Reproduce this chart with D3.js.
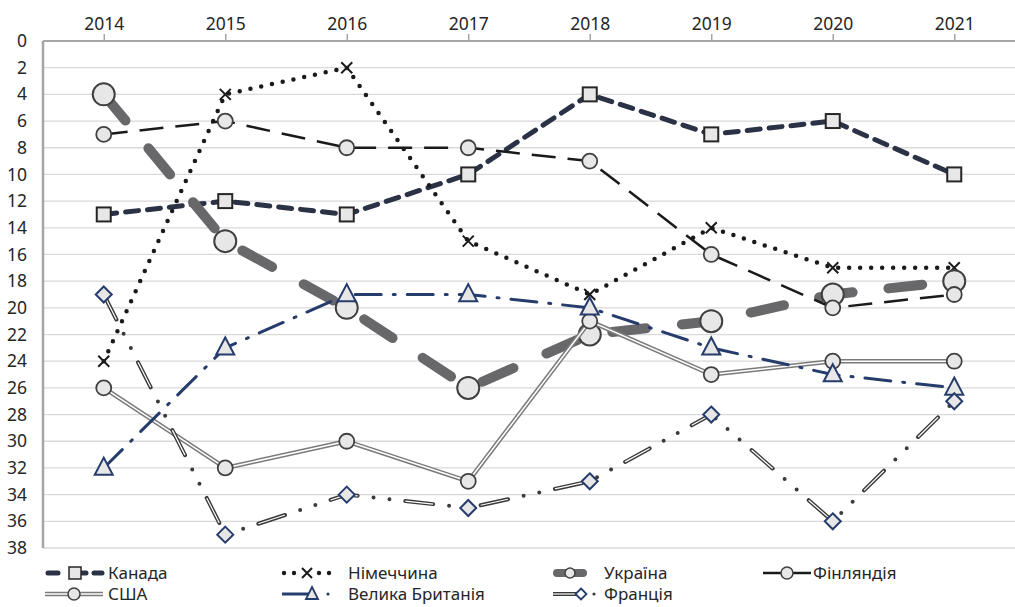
<!DOCTYPE html>
<html>
<head>
<meta charset="utf-8">
<script src="https://cdn.jsdelivr.net/npm/d3@7"></script>
<style>
  body { margin: 0; background: #fff; }
  svg text { font-family: "Noto Sans", "Open Sans", sans-serif; fill: #262626; }
</style>
</head>
<body>
<div id="chart"></div>
<script>
var years = ["2014", "2015", "2016", "2017", "2018", "2019", "2020", "2021"];
var yTicks = [0, 2, 4, 6, 8, 10, 12, 14, 16, 18, 20, 22, 24, 26, 28, 30, 32, 34, 36, 38];

var canada  = [13, 12, 13, 10, 4, 7, 6, 10];
var germany = [24, 4, 2, 15, 19, 14, 17, 17];
var ukraine = [4, 15, 20, 26, 22, 21, 19, 18];
var finland = [7, 6, 8, 8, 9, 16, 20, 19];
var usa     = [26, 32, 30, 33, 21, 25, 24, 24];
var uk      = [32, 23, 19, 19, 20, 23, 25, 26];
var france  = [19, 37, 34, 35, 33, 28, 36, 27];

var width = 1015, height = 607;
var plot = {left: 43, right: 1015, top: 41, bottom: 548};

var svg = d3.select("#chart").append("svg")
    .attr("width", width)
    .attr("height", height);

var x = d3.scalePoint()
    .domain(years)
    .range([plot.left, plot.right])
    .padding(0.5);

var y = d3.scaleLinear()
    .domain([0, 38])
    .range([plot.top, plot.bottom]);

// gridlines
svg.append("g")
  .selectAll("line")
  .data(yTicks.filter(function(d) { return d > 0; }))
  .enter().append("line")
    .attr("x1", plot.left).attr("x2", plot.right)
    .attr("y1", function(d) { return y(d); })
    .attr("y2", function(d) { return y(d); })
    .attr("stroke", "#d9d9d9")
    .attr("stroke-width", 1.3);

// top axis
var xAxis = d3.axisTop(x).tickSize(7).tickPadding(4);
var gx = svg.append("g")
    .attr("transform", "translate(0," + plot.top + ")")
    .call(xAxis);
gx.select(".domain").attr("stroke", "#a6a6a6").attr("stroke-width", 2).attr("d", "M" + plot.left + ",0H" + plot.right);
gx.selectAll(".tick line").attr("stroke", "#a6a6a6").attr("stroke-width", 1.5);
gx.selectAll(".tick text").style("font-size", "17.5px").attr("fill", "#262626");

// left axis
var yAxis = d3.axisLeft(y).tickValues(yTicks).tickSize(0).tickPadding(16);
var gy = svg.append("g")
    .attr("transform", "translate(" + plot.left + ",0)")
    .call(yAxis);
gy.select(".domain").attr("stroke", "#a6a6a6").attr("stroke-width", 2.5).attr("d", "M0," + plot.top + "V" + plot.bottom);
gy.selectAll(".tick text").style("font-size", "17.5px").attr("fill", "#262626");

var line = d3.line()
    .x(function(d, i) { return x(years[i]); })
    .y(function(d) { return y(d); });

function drawPath(g, vals, stroke, w, dash, cap) {
  g.append("path")
    .attr("d", line(vals))
    .attr("fill", "none")
    .attr("stroke", stroke)
    .attr("stroke-width", w)
    .attr("stroke-dasharray", dash || null)
    .attr("stroke-linecap", cap || "butt")
    .attr("stroke-linejoin", "round");
}

var markerFill = "#e7e7e7";

function drawMarkers(g, vals, kind, size, stroke, sw) {
  var sel = g.selectAll(".m").data(vals).enter();
  var cx = function(d, i) { return x(years[i]); };
  if (kind == "circle") {
    sel.append("circle")
      .attr("cx", cx).attr("cy", function(d) { return y(d); })
      .attr("r", size)
      .attr("fill", markerFill).attr("stroke", stroke).attr("stroke-width", sw);
  } else if (kind == "square") {
    sel.append("rect")
      .attr("x", function(d, i) { return cx(d, i) - size; })
      .attr("y", function(d) { return y(d) - size; })
      .attr("width", size * 2).attr("height", size * 2)
      .attr("fill", markerFill).attr("stroke", stroke).attr("stroke-width", sw);
  } else if (kind == "cross") {
    sel.append("path")
      .attr("transform", function(d, i) { return "translate(" + cx(d, i) + "," + y(d) + ")"; })
      .attr("d", "M" + -size + "," + -size + "L" + size + "," + size + "M" + -size + "," + size + "L" + size + "," + -size)
      .attr("stroke", stroke).attr("stroke-width", sw).attr("fill", "none");
  } else if (kind == "triangle") {
    sel.append("path")
      .attr("transform", function(d, i) { return "translate(" + cx(d, i) + "," + y(d) + ")"; })
      .attr("d", "M0," + (-size * 1.15) + "L" + size + "," + size * 0.75 + "L" + -size + "," + size * 0.75 + "Z")
      .attr("fill", markerFill).attr("stroke", stroke).attr("stroke-width", sw);
  } else if (kind == "diamond") {
    sel.append("path")
      .attr("transform", function(d, i) { return "translate(" + cx(d, i) + "," + y(d) + ")"; })
      .attr("d", "M0," + -size + "L" + size + ",0L0," + size + "L" + -size + ",0Z")
      .attr("fill", markerFill).attr("stroke", stroke).attr("stroke-width", sw);
  }
}

var series = [
  {name: "Канада", vals: canada, draw: function(g, v) {
      drawPath(g, v, "#2b3246", 5, "13 9", "round");
    }, marker: ["square", 7, "#262626", 2]},
  {name: "Німеччина", vals: germany, draw: function(g, v) {
      drawPath(g, v, "#1a1a1a", 4.5, "0 11", "round");
    }, marker: ["cross", 5.5, "#1a1a1a", 2]},
  {name: "Україна", vals: ukraine, draw: function(g, v) {
      drawPath(g, v, "#68686b", 10, "34 36", "round");
    }, marker: ["circle", 11, "#404040", 2]},
  {name: "Фінляндія", vals: finland, draw: function(g, v) {
      drawPath(g, v, "#1a1a1a", 2.5, "24 12");
    }, marker: ["circle", 7.5, "#404040", 1.8]},
  {name: "США", vals: usa, draw: function(g, v) {
      drawPath(g, v, "#7a7a7a", 4.5);
      drawPath(g, v, "#ffffff", 1.5);
    }, marker: ["circle", 7.5, "#404040", 1.8]},
  {name: "Велика Британія", vals: uk, draw: function(g, v) {
      drawPath(g, v, "#263c6c", 3, "26 12 2 12", "round");
    }, marker: ["triangle", 9, "#263c6c", 2]},
  {name: "Франція", vals: france, draw: function(g, v) {
      drawPath(g, v, "#3a3a3a", 4, "28 16 0 16 0 16", "round");
      drawPath(g, v, "#ffffff", 1.2, "28 48");
    }, marker: ["diamond", 8, "#263c6c", 2]}
];

series.forEach(function(s) {
  var g = svg.append("g");
  s.draw(g, s.vals);
  drawMarkers(g, s.vals, s.marker[0], s.marker[1], s.marker[2], s.marker[3]);
});

// legend
var legendPos = [
  [45, 573, 60, 108], [282, 573, 60, 348], [553, 573, 34, 604], [763, 573, 48, 813],
  [45, 594, 58, 108], [282, 594, 38, 348], [553, 594, 38, 604]
];

series.forEach(function(s, i) {
  var p = legendPos[i];
  var g = svg.append("g");
  var x0 = p[0], yy = p[1], w = p[2], cxm = x0 + w / 2;
  if (s.name == "Канада") {
    g.append("line").attr("x1", x0 + 3).attr("x2", x0 + 13).attr("y1", yy).attr("y2", yy)
      .attr("stroke", "#2b3246").attr("stroke-width", 5).attr("stroke-linecap", "round");
    g.append("line").attr("x1", x0 + 37).attr("x2", x0 + 41).attr("y1", yy).attr("y2", yy)
      .attr("stroke", "#2b3246").attr("stroke-width", 5).attr("stroke-linecap", "round");
    g.append("line").attr("x1", x0 + 49).attr("x2", x0 + 57).attr("y1", yy).attr("y2", yy)
      .attr("stroke", "#2b3246").attr("stroke-width", 5).attr("stroke-linecap", "round");
    g.append("rect").attr("x", x0 + 24).attr("y", yy - 6).attr("width", 12).attr("height", 12)
      .attr("fill", markerFill).attr("stroke", "#262626").attr("stroke-width", 1.5);
  } else if (s.name == "Німеччина") {
    [2, 12, 37, 47].forEach(function(dx) {
      g.append("circle").attr("cx", x0 + dx).attr("cy", yy).attr("r", 2.2).attr("fill", "#1a1a1a");
    });
    g.append("path").attr("d", "M" + (x0 + 20) + "," + (yy - 5) + "L" + (x0 + 30) + "," + (yy + 5) +
        "M" + (x0 + 20) + "," + (yy + 5) + "L" + (x0 + 30) + "," + (yy - 5))
      .attr("stroke", "#1a1a1a").attr("stroke-width", 2);
  } else if (s.name == "Україна") {
    g.append("line").attr("x1", x0 + 4).attr("x2", x0 + w - 4).attr("y1", yy).attr("y2", yy)
      .attr("stroke", "#68686b").attr("stroke-width", 8).attr("stroke-linecap", "round");
    g.append("circle").attr("cx", cxm).attr("cy", yy).attr("r", 5)
      .attr("fill", markerFill).attr("stroke", "#404040").attr("stroke-width", 1.5);
  } else if (s.name == "Фінляндія") {
    g.append("line").attr("x1", x0).attr("x2", x0 + w).attr("y1", yy).attr("y2", yy)
      .attr("stroke", "#1a1a1a").attr("stroke-width", 2.5);
    g.append("circle").attr("cx", cxm).attr("cy", yy).attr("r", 6)
      .attr("fill", markerFill).attr("stroke", "#404040").attr("stroke-width", 1.5);
  } else if (s.name == "США") {
    g.append("line").attr("x1", x0).attr("x2", x0 + w).attr("y1", yy).attr("y2", yy)
      .attr("stroke", "#7a7a7a").attr("stroke-width", 4.5);
    g.append("line").attr("x1", x0).attr("x2", x0 + w).attr("y1", yy).attr("y2", yy)
      .attr("stroke", "#fff").attr("stroke-width", 1.5);
    g.append("circle").attr("cx", cxm).attr("cy", yy).attr("r", 6)
      .attr("fill", markerFill).attr("stroke", "#404040").attr("stroke-width", 1.5);
  } else if (s.name == "Велика Британія") {
    g.append("line").attr("x1", x0).attr("x2", x0 + 30).attr("y1", yy).attr("y2", yy)
      .attr("stroke", "#263c6c").attr("stroke-width", 3);
    g.append("circle").attr("cx", x0 + 46).attr("cy", yy).attr("r", 1.6).attr("fill", "#263c6c");
    g.append("path").attr("transform", "translate(" + (x0 + 30) + "," + yy + ")")
      .attr("d", "M0,-7L6,5L-6,5Z")
      .attr("fill", markerFill).attr("stroke", "#263c6c").attr("stroke-width", 1.8);
  } else if (s.name == "Франція") {
    g.append("line").attr("x1", x0).attr("x2", x0 + 28).attr("y1", yy).attr("y2", yy)
      .attr("stroke", "#3a3a3a").attr("stroke-width", 4);
    g.append("line").attr("x1", x0).attr("x2", x0 + 28).attr("y1", yy).attr("y2", yy)
      .attr("stroke", "#fff").attr("stroke-width", 1.2);
    g.append("circle").attr("cx", x0 + 41).attr("cy", yy).attr("r", 1.6).attr("fill", "#3a3a3a");
    g.append("path").attr("transform", "translate(" + (x0 + 28) + "," + yy + ")")
      .attr("d", "M0,-5.5L5.5,0L0,5.5L-5.5,0Z")
      .attr("fill", "#fff").attr("stroke", "#263c6c").attr("stroke-width", 1.8);
  }
  g.append("text")
    .attr("x", p[3]).attr("y", yy)
    .attr("dy", "0.35em")
    .style("font-size", "17px")
    .text(s.name);
});
</script>
</body>
</html>
